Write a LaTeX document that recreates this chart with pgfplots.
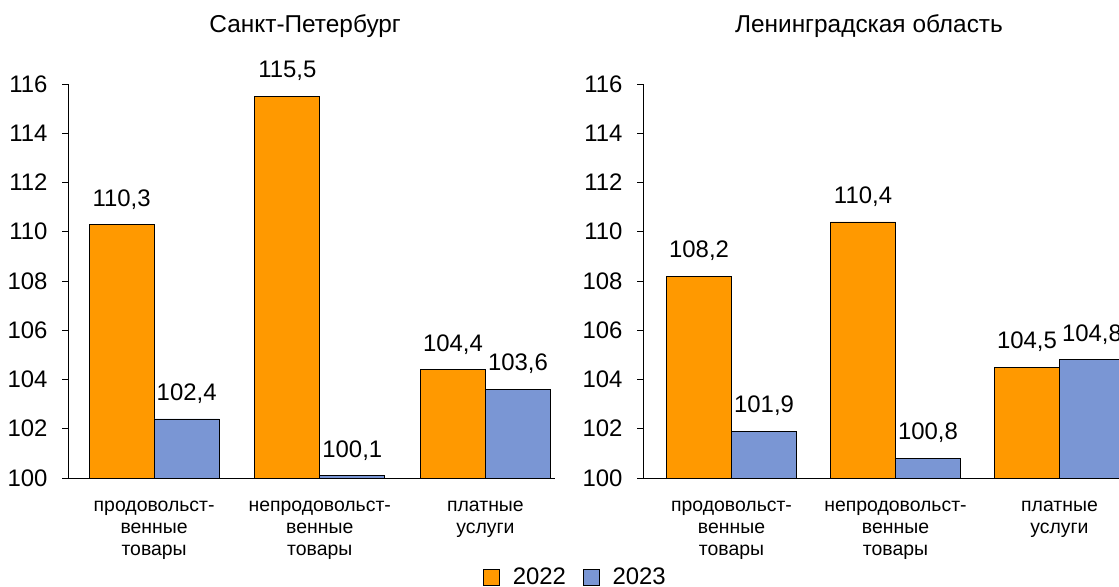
\documentclass[border=0pt]{standalone}
\usepackage{fontspec}
\setmainfont{Liberation Sans}
\usepackage{pgfplots}
\pgfplotsset{compat=1.18}
\definecolor{orr}{RGB}{255,153,0}
\definecolor{bll}{RGB}{122,150,212}
\pgfplotsset{
 sqleg/.style={legend image code/.code={\draw[##1] (0bp,-8bp) rectangle (16bp,8bp);}},
 mybars/.style={
  scale only axis, width=487bp, height=394bp,
  ymin=100, ymax=116, ytick={100,102,...,116},
  xtick={0,1,2},
  xticklabels={{продовольст-\\венные\\товары},{непродовольст-\\венные\\товары},{платные\\услуги}},
  axis x line=bottom, axis y line=left,
  axis line style={-, line width=0.8bp, black},
  x tick style={draw=none},
  y tick style={line width=0.8bp, black},
  tick align=outside, major tick length=6bp,
  ybar=0pt, bar width=65bp,
  /pgf/number format/assume math mode=true,
  yticklabel style={font=\fontsize{24}{28}\selectfont, xshift=-11bp},
  xticklabel style={font=\fontsize{19.5}{22}\selectfont, align=center, inner sep=0pt, yshift=-17bp},
  nodes near coords={\pgfmathprintnumber[fixed,fixed zerofill,precision=1,use comma]{\pgfplotspointmeta}},
  every node near coord/.append style={font=\fontsize{24}{28}\selectfont, black, inner sep=0pt, yshift=15bp},
  title style={font=\fontsize{24.5}{28}\selectfont, anchor=center},
 }
}
\begin{document}
\begin{tikzpicture}
\useasboundingbox (0,0) rectangle (1119bp,587bp);
\clip (0,0) rectangle (1119bp,587bp);
\begin{axis}[mybars, at={(68bp,109bp)}, anchor=south west,
  xmin=-0.52, xmax=2.42,
  title={Санкт-Петербург}, title style={at={(0.487,1.132)}},
  legend columns=2,
  legend style={at={(1.041,-0.251)}, anchor=center, draw=none, fill=none,
    font=\fontsize{24}{28}\selectfont, inner sep=1bp,
    nodes={inner sep=1bp},
    /tikz/every odd column/.append style={column sep=12bp},
    /tikz/every even column/.append style={column sep=16bp}},
  ]
\addplot[fill=orr, draw=black, line width=0.6bp, sqleg]
  coordinates {(0,110.3) (1,115.5) (2,104.4)};
\addlegendentry{2022}
\addplot[fill=bll, draw=black, line width=0.6bp, sqleg]
  coordinates {(0,102.4) (1,100.1) (2,103.6)};
\addlegendentry{2023}
\end{axis}
\begin{axis}[mybars, at={(643bp,109bp)}, anchor=south west,
  xmin=-0.54, xmax=2.43,
  title={Ленинградская область}, title style={at={(0.464,1.132)}},
  ]
\addplot[fill=orr, draw=black, line width=0.6bp]
  coordinates {(0,108.2) (1,110.4) (2,104.5)};
\addplot[fill=bll, draw=black, line width=0.6bp]
  coordinates {(0,101.9) (1,100.8) (2,104.8)};
\end{axis}
\end{tikzpicture}
\end{document}
